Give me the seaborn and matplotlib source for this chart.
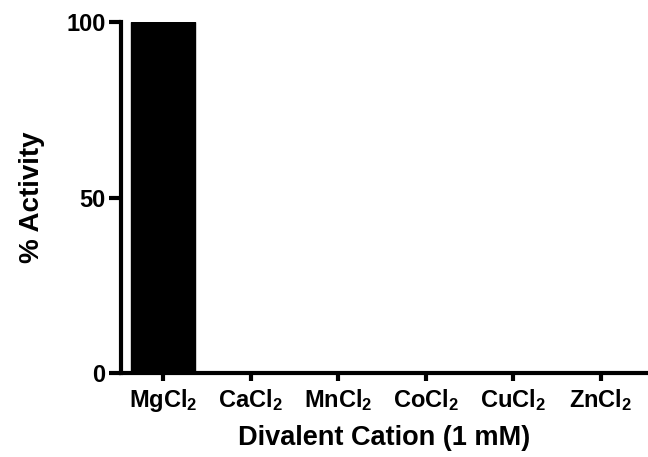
import pandas as pd
import seaborn as sns
import matplotlib.pyplot as plt

# % activity for each divalent cation (1 mM)
cations = ['MgCl$_2$', 'CaCl$_2$', 'MnCl$_2$', 'CoCl$_2$', 'CuCl$_2$', 'ZnCl$_2$']
activity = [100, 0, 0, 0, 0, 0]

data = pd.DataFrame({'cation': cations, 'activity': activity})

sns.set_style('ticks')
plt.rcParams['font.family'] = ['Liberation Sans', 'DejaVu Sans']
plt.rcParams['font.weight'] = 'bold'
plt.rcParams['mathtext.fontset'] = 'custom'
plt.rcParams['mathtext.rm'] = 'Liberation Sans:bold'
plt.rcParams['mathtext.it'] = 'Liberation Sans:bold'
plt.rcParams['mathtext.bf'] = 'Liberation Sans:bold'
plt.rcParams['text.color'] = 'black'
plt.rcParams['axes.labelcolor'] = 'black'
plt.rcParams['xtick.color'] = 'black'
plt.rcParams['ytick.color'] = 'black'

fig = plt.figure(figsize=(6.48, 4.57), dpi=100)
ax = fig.add_axes([0.1867, 0.1838, 0.811, 0.768])

sns.barplot(x='cation', y='activity', data=data, color='black', saturation=1,
            width=0.72, edgecolor='black', ax=ax)

ax.set_xlim(-0.48, 5.52)
ax.set_ylim(0, 100)
ax.set_yticks([0, 50, 100])
ax.set_ylabel('% Activity', fontsize=20, fontweight='bold', labelpad=15)
ax.set_xlabel('Divalent Cation (1 mM)', fontsize=19.5, fontweight='bold', labelpad=8)

for s in ['top', 'right']:
    ax.spines[s].set_visible(False)
for s in ['left', 'bottom']:
    ax.spines[s].set_linewidth(3)
    ax.spines[s].set_color('black')

ax.tick_params(axis='y', length=9, width=3, labelsize=17, pad=2)
ax.tick_params(axis='x', length=6, width=3, labelsize=17, pad=4)

plt.savefig('out.png', dpi=100)
